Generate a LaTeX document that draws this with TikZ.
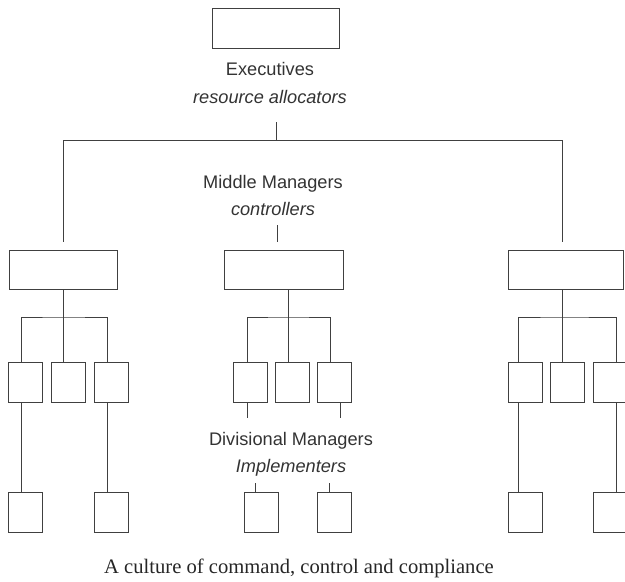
\documentclass[tikz,border=0pt]{standalone}
\usepackage{fontspec}
\setmainfont{Liberation Serif}
\setsansfont{Liberation Sans}
\begin{document}
\begin{tikzpicture}[x=1pt,y=-1pt,
  box/.style={draw=black!75,line width=1pt,minimum width=#1,minimum height=40pt,inner sep=0pt},
  unit/.style={box=34pt},
  link/.style={draw=black!75,line width=1pt},
  lbl/.style={font=\sffamily\fontsize{18.2}{20}\selectfont,anchor=base,inner sep=0pt,text=black!80},
  role/.style={lbl,font=\sffamily\itshape\fontsize{18.2}{20}\selectfont}]
\useasboundingbox (0,0) rectangle (625,582);
% executives
\node[box=127pt] (exec) at (275.5,28) {};
\node[lbl] (execname) at (270,75) {Executives};
\node[role] (execrole) at (270,103) {resource allocators};
\coordinate (bus) at (276,140);
% middle managers
\node[box=108pt,minimum height=39pt] (midL) at (63,269.5) {};
\node[box=119pt,minimum height=39pt] (midC) at (284,269.5) {};
\node[box=115pt,minimum height=39pt] (midR) at (565.5,269.5) {};
\node[lbl] (midname) at (273,188) {Middle Managers};
\node[role] (midrole) at (273,215) {controllers};
% divisional managers
\foreach \g/\a/\b/\c in {L/25.5/68.5/111.5,C/250/292/334.5,R/525/567/610}{
  \node[unit] (s\g1) at (\a,382) {};
  \node[unit] (s\g2) at (\b,382) {};
  \node[unit] (s\g3) at (\c,382) {};
}
\node[unit] (bL1) at (25.5,512) {};
\node[unit] (bL2) at (111.5,512) {};
\node[unit] (bC1) at (261.5,512) {};
\node[unit] (bC2) at (334.5,512) {};
\node[unit] (bR1) at (525,512) {};
\node[unit] (bR2) at (610,512) {};
\node[lbl] (divname) at (291,445) {Divisional Managers};
\node[role] (divrole) at (291,472) {Implementers};
% branches
\foreach \g/\p/\q/\r in {L/21/63/107,C/247/288/330,R/518/562/616}{
  \coordinate (p\g1) at (\p,317);
  \coordinate (j\g) at (\q,317);
  \coordinate (p\g3) at (\r,317);
  \draw[link] (mid\g.south -| j\g) -- (j\g);
  \draw[link] (s\g1.north -| p\g1) |- (j\g) -| (s\g3.north -| p\g3);
  \draw[link] (j\g) -- (s\g2.north -| j\g);
}
\draw[link] (bus) -- ++(0,-18);
\draw[link,shorten <=8pt] (midL.north) |- (bus);
\draw[link,shorten >=8pt] (bus) -| (midR.north -| jR);
\draw[link] (midC.north) ++(-7,-8) -- ++(0,-17);
\draw[link] (sL1.south -| pL1) -- (bL1.north -| pL1);
\draw[link] (sL3.south -| pL3) -- (bL2.north -| pL3);
\draw[link] (sR1.south -| pR1) -- (bR1.north -| pR1);
\draw[link] (sR3.south -| pR3) -- (bR2.north -| pR3);
\draw[link] (sC1.south -| pC1) -- ++(0,15);
\draw[link] (sC3.south) ++(5.5,0) -- ++(0,15);
\draw[link] (bC1.north) ++(-6.5,0) -- ++(0,-9);
\draw[link] (bC2.north) ++(-5.5,0) -- ++(0,-9);
\node[font=\fontsize{20.6}{22}\selectfont,anchor=base,inner sep=0pt,text=black!85] (caption) at (299,573) {A culture of command, control and compliance};
\end{tikzpicture}
\end{document}
